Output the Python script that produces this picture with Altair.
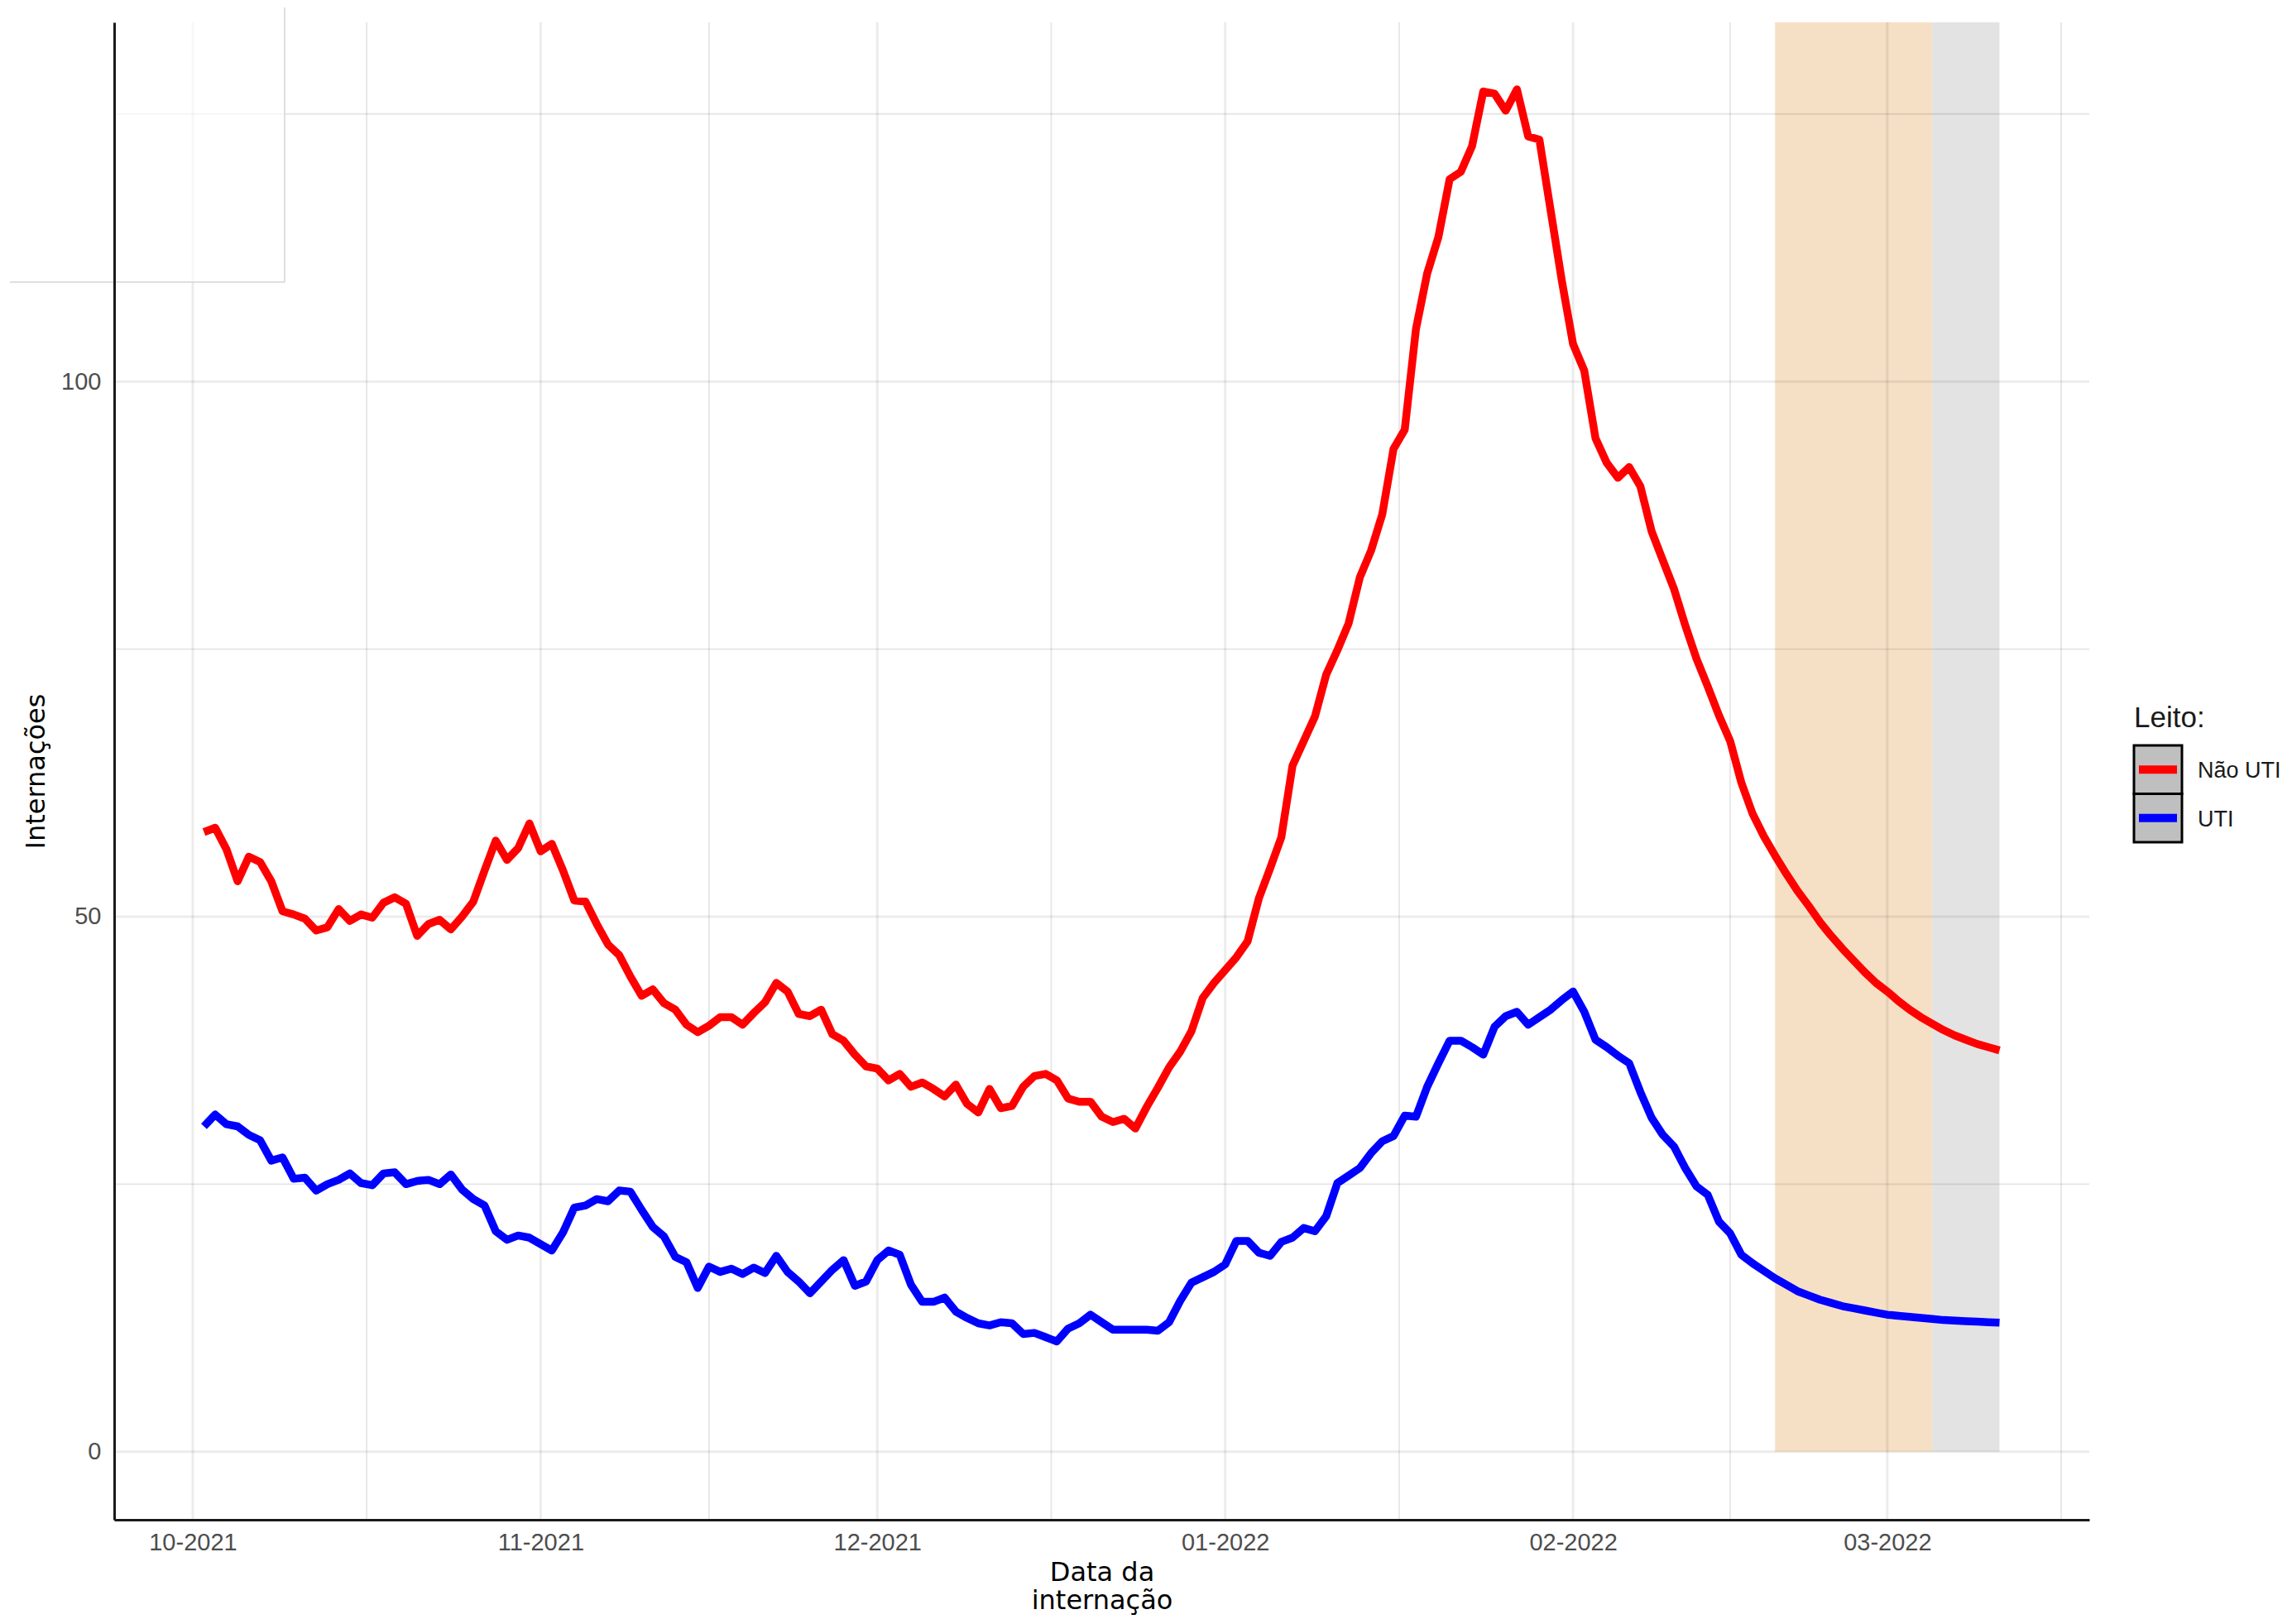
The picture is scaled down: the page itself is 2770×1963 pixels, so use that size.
import altair as alt
import pandas as pd

# ---------------- data ----------------
series_names = ["Não UTI", "UTI"]
series_colors = ["#ff0000", "#0000ff"]

first_day = "2021-10-02"   # one value per day from this date

nao_uti = [
    57.9, 58.3, 56.3, 53.3, 55.6, 55.1, 53.3, 50.5, 50.2, 49.8,
    48.7, 49.0, 50.7, 49.6, 50.2, 49.9, 51.3, 51.8, 51.2, 48.2,
    49.3, 49.7, 48.8, 50.0, 51.4, 54.3, 57.1, 55.3, 56.4, 58.7,
    56.1, 56.8, 54.3, 51.5, 51.4, 49.3, 47.4, 46.4, 44.4, 42.6,
    43.2, 41.9, 41.3, 39.9, 39.2, 39.8, 40.6, 40.6, 39.9, 41.0,
    42.0, 43.8, 43.0, 40.9, 40.7, 41.3, 39.0, 38.4, 37.1, 36.0,
    35.8, 34.7, 35.3, 34.1, 34.5, 33.9, 33.2, 34.3, 32.5, 31.7,
    33.9, 32.1, 32.3, 34.1, 35.1, 35.3, 34.7, 33.0, 32.7, 32.7,
    31.3, 30.8, 31.1, 30.2, 32.2, 34.0, 35.9, 37.4, 39.3, 42.4,
    43.8, 45.0, 46.2, 47.7, 51.7, 54.5, 57.4, 64.1, 66.4, 68.7,
    72.6, 74.9, 77.4, 81.7, 84.2, 87.6, 93.7, 95.5, 104.9, 110.1,
    113.5, 118.9, 119.6, 122.0, 127.1, 126.9, 125.3, 127.3, 122.9, 122.6,
    116.0, 109.4, 103.5, 101.0, 94.7, 92.4, 91.0, 92.0, 90.2, 86.0,
    83.3, 80.6, 77.2, 74.1, 71.5, 68.8, 66.4, 62.5, 59.6, 57.5,
    55.7, 54.0, 52.4, 51.0, 49.5, 48.2, 47.0, 45.9, 44.8, 43.8,
    43.0, 42.1, 41.3, 40.6, 40.0, 39.4, 38.9, 38.5, 38.1, 37.8,
    37.5,
]

uti = [
    30.4, 31.5, 30.6, 30.4, 29.6, 29.1, 27.2, 27.5, 25.5, 25.6,
    24.4, 25.0, 25.4, 26.0, 25.1, 24.9, 26.0, 26.1, 25.0, 25.3,
    25.4, 25.0, 25.9, 24.5, 23.6, 23.0, 20.6, 19.8, 20.2, 20.0,
    19.4, 18.8, 20.5, 22.8, 23.0, 23.6, 23.4, 24.4, 24.3, 22.6,
    21.0, 20.1, 18.2, 17.7, 15.3, 17.3, 16.8, 17.1, 16.6, 17.2,
    16.7, 18.3, 16.8, 15.9, 14.8, 15.9, 17.0, 17.9, 15.5, 15.9,
    17.9, 18.8, 18.4, 15.6, 14.0, 14.0, 14.4, 13.1, 12.5, 12.0,
    11.8, 12.1, 12.0, 11.0, 11.1, 10.7, 10.3, 11.5, 12.0, 12.8,
    12.1, 11.4, 11.4, 11.4, 11.4, 11.3, 12.1, 14.1, 15.8, 16.3,
    16.8, 17.5, 19.7, 19.7, 18.6, 18.3, 19.6, 20.0, 20.9, 20.6,
    22.0, 25.1, 25.8, 26.5, 27.9, 29.0, 29.5, 31.4, 31.3, 34.1,
    36.3, 38.4, 38.4, 37.8, 37.1, 39.7, 40.7, 41.1, 39.9, 40.6,
    41.3, 42.2, 43.0, 41.1, 38.5, 37.8, 37.0, 36.3, 33.6, 31.2,
    29.6, 28.5, 26.5, 24.8, 24.0, 21.5, 20.4, 18.4, 17.6, 16.9,
    16.2, 15.6, 15.0, 14.6, 14.2, 13.9, 13.6, 13.4, 13.2, 13.0,
    12.8, 12.7, 12.6, 12.5, 12.4, 12.3, 12.25, 12.2, 12.15, 12.1,
    12.05,
]

period_start = ["2022-02-19", "2022-03-05"]
period_end = ["2022-03-05", "2022-03-11"]
period_fill = ["#f6e0c5", "#e3e3e3"]

month_ticks = ["2021-10-01", "2021-11-01", "2021-12-01",
               "2022-01-01", "2022-02-01", "2022-03-01"]
minor_x = ["2021-10-16 12:00", "2021-11-16 00:00", "2021-12-16 12:00",
           "2022-01-16 12:00", "2022-02-15 00:00", "2022-03-16 12:00"]
major_y = [0, 50, 100]
minor_y = [25, 75, 125]

x_limits = ["2021-09-24", "2022-03-19"]
y_limits = [-6.36, 133.56]


def ms(s):
    return int(pd.Timestamp(s).value // 1_000_000)


# ---------------- layout ----------------
PLOT_W, PLOT_H = 2387, 1810
FONT = "Liberation Sans"
TFONT = "DejaVu Sans"

dates = pd.date_range(first_day, periods=len(nao_uti), freq="D")
lines_df = pd.DataFrame({
    "t": [ms(d) for d in dates] * 2,
    "v": nao_uti + uti,
    "serie": [series_names[0]] * len(nao_uti) + [series_names[1]] * len(uti),
})
rect_df = pd.DataFrame({
    "t1": [ms(s) for s in period_start],
    "t2": [ms(s) for s in period_end],
    "lo": [0, 0],
    "hi": [y_limits[1], y_limits[1]],
    "fill": period_fill,
})
major_x_df = pd.DataFrame({"t": [ms(s) for s in month_ticks]})
minor_x_df = pd.DataFrame({"t": [ms(s) for s in minor_x]})
major_y_df = pd.DataFrame({"v": major_y})
minor_y_df = pd.DataFrame({"v": minor_y})
one = pd.DataFrame({"k": [0]})

x_scale = alt.Scale(type="utc", domain=[ms(x_limits[0]), ms(x_limits[1])], nice=False)
y_scale = alt.Scale(domain=y_limits, nice=False, zero=False)

x_axis = alt.Axis(
    values=[ms(s) for s in month_ticks],
    labelExpr="utcFormat(datum.value, '%m-%Y')",
    grid=False, ticks=False, domain=True, domainColor="#1a1a1a", domainWidth=3,
    labelFont=FONT, labelFontSize=29, labelColor="#4d4d4d", labelPadding=13,
    labelFlush=False, labelOverlap=False,
    title=["Data da", "internação"], titleFont=TFONT, titleFontSize=32,
    titleFontWeight="normal", titleColor="#000000", titleX=PLOT_W / 2, titleY=73,
    titleBaseline="alphabetic", titleAlign="center", titleLineHeight=34, zindex=1,
)
y_axis = alt.Axis(
    values=major_y, grid=False, ticks=False, domain=True, domainColor="#1a1a1a",
    domainWidth=3, labelFont=FONT, labelFontSize=29, labelColor="#4d4d4d",
    labelPadding=16, title="Internações", titleFont=TFONT, titleFontSize=32,
    titleFontWeight="normal", titleColor="#000000", titleAngle=270,
    titleX=-85, titleY=PLOT_H / 2, titleBaseline="alphabetic", titleAlign="center",
    zindex=1,
)


def X(f):
    return alt.X(f"{f}:T", scale=x_scale, axis=x_axis)


def Y(f):
    return alt.Y(f"{f}:Q", scale=y_scale, axis=y_axis)


layers = []

# shaded periods
layers.append(alt.Chart(rect_df).mark_rect().encode(
    x=X("t1"), x2=alt.X2("t2"), y=Y("lo"), y2=alt.Y2("hi"),
    color=alt.Color("fill:N", scale=None)))

# grid
layers.append(alt.Chart(minor_x_df).mark_rule(color="black", opacity=0.10, strokeWidth=1.8).encode(x=X("t")))
layers.append(alt.Chart(major_x_df).mark_rule(color="black", opacity=0.075, strokeWidth=3).encode(x=X("t")))
layers.append(alt.Chart(minor_y_df).mark_rule(color="black", opacity=0.10, strokeWidth=1.8).encode(y=Y("v")))
layers.append(alt.Chart(major_y_df).mark_rule(color="black", opacity=0.075, strokeWidth=3).encode(y=Y("v")))

# faint box at the top-left corner
layers.append(alt.Chart(one).mark_rect(color="white", opacity=0.6).encode(
    x=alt.value(-126), x2=alt.value(206), y=alt.value(-18), y2=alt.value(314)))
layers.append(alt.Chart(one).mark_rule(color="#d4d4d4", strokeWidth=1.5).encode(
    x=alt.value(206), y=alt.value(-18), y2=alt.value(314)))
layers.append(alt.Chart(one).mark_rule(color="#d4d4d4", strokeWidth=1.5).encode(
    x=alt.value(-126), x2=alt.value(206), y=alt.value(314)))

# lines
layers.append(alt.Chart(lines_df).mark_line(strokeWidth=9.5, strokeJoin="round").encode(
    x=X("t"), y=Y("v"),
    stroke=alt.Stroke("serie:N", scale=alt.Scale(domain=series_names, range=series_colors), legend=None)))

# legend (drawn by hand)
LX = 2441
layers.append(alt.Chart(one).mark_text(
    text="Leito:", align="left", baseline="alphabetic", font=FONT, fontSize=35, color="#1a1a1a"
).encode(x=alt.value(LX), y=alt.value(852)))
ROW_H = 58.5
for i, (name, col) in enumerate(zip(series_names, series_colors)):
    top = 874 + i * ROW_H
    layers.append(alt.Chart(one).mark_rect(fill="#bfbfbf", stroke="black", strokeWidth=3).encode(
        x=alt.value(LX), x2=alt.value(LX + 58), y=alt.value(top), y2=alt.value(top + ROW_H)))
    layers.append(alt.Chart(one).mark_rule(color=col, strokeWidth=10).encode(
        x=alt.value(LX + 6), x2=alt.value(LX + 52), y=alt.value(top + ROW_H / 2)))
    layers.append(alt.Chart(one).mark_text(
        text=name, align="left", baseline="alphabetic", font=FONT, fontSize=27, color="#1a1a1a"
    ).encode(x=alt.value(LX + 77), y=alt.value(top + ROW_H / 2 + 10)))

chart = alt.layer(*layers).properties(
    width=PLOT_W, height=PLOT_H,
    padding={"left": 130, "top": 19, "right": 237, "bottom": 118},
    autosize=alt.AutoSizeParams(type="none"),
    background="white",
).configure_view(stroke=None)

chart.save("out.html", embed_options={"renderer": "svg", "actions": False})
